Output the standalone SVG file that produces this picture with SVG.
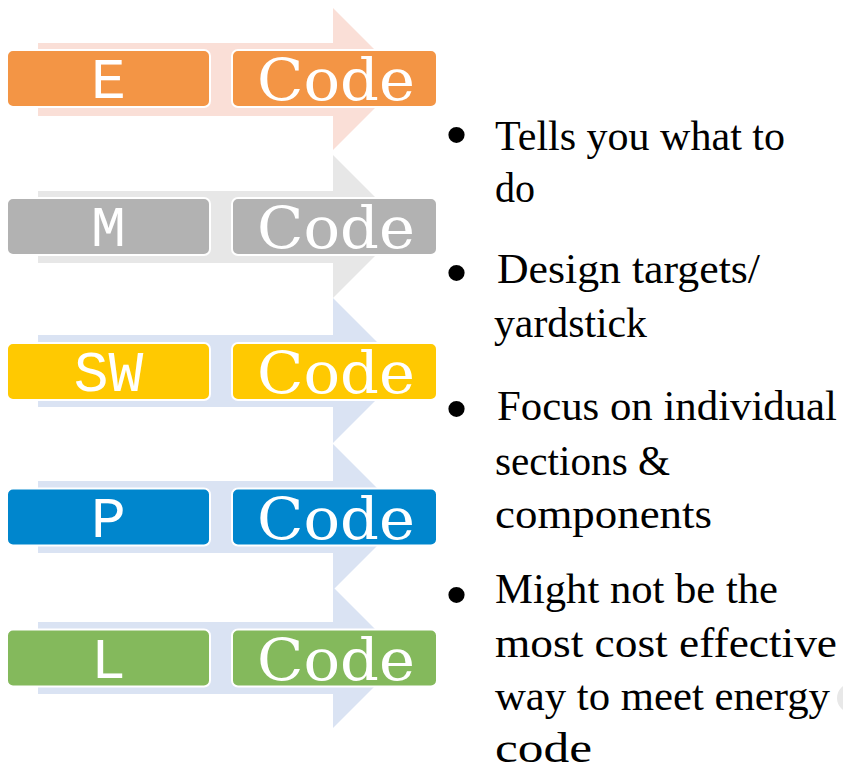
<svg xmlns="http://www.w3.org/2000/svg" width="843" height="774" viewBox="0 0 843 774">
<style>
.box{stroke:#fff;stroke-width:2}
.lbl{font-family:"Liberation Mono","Courier New",monospace;font-size:58px;fill:#fff;text-anchor:middle}
.code{font-family:"DejaVu Serif",serif;font-size:58px;fill:#fff;text-anchor:middle}
.txt{font-family:"Liberation Serif","Times New Roman",serif;font-size:43px;fill:#000}
.bul{font-family:"Liberation Sans",Arial,sans-serif;font-size:60px;fill:#000}
</style>
<rect width="843" height="774" fill="#fff"/>
<g id="connectors">
<polygon fill="#FADFD7" points="38,43 333,43 333,8 404,79 333,150 333,116 38,116"/>
<polygon fill="#E7E7E7" points="38,191 333,191 333,155 404.5,226.5 333,298 333,263 38,263"/>
<polygon fill="#DAE3F3" points="38,335 333,335 333,298 405.5,370.5 333,443 333,407 38,407"/>
<polygon fill="#DAE3F3" points="38,481 333,481 333,444 406,517 333,590 333,553 38,553"/>
<polygon fill="#DAE3F3" points="38,622 333,622 333,587 403.5,657.5 333,728 333,694 38,694"/>
</g>
<g id="row-e">
<rect class="box" x="7" y="50" width="203" height="57" rx="6" fill="#F39545"/>
<text class="lbl" x="108.5" y="98">E</text>
<rect class="box" x="232" y="50" width="205" height="57" rx="6" fill="#F39545"/>
<text class="code" x="336" y="100" textLength="158" lengthAdjust="spacingAndGlyphs">Code</text>
</g>
<g id="row-m">
<rect class="box" x="7" y="198" width="203" height="57" rx="6" fill="#B2B2B2"/>
<text class="lbl" x="108.5" y="246">M</text>
<rect class="box" x="232" y="198" width="205" height="57" rx="6" fill="#B2B2B2"/>
<text class="code" x="336" y="248" textLength="158" lengthAdjust="spacingAndGlyphs">Code</text>
</g>
<g id="row-sw">
<rect class="box" x="7" y="343" width="203" height="57" rx="6" fill="#FFC901"/>
<text class="lbl" x="108.5" y="391">SW</text>
<rect class="box" x="232" y="343" width="205" height="57" rx="6" fill="#FFC901"/>
<text class="code" x="336" y="393" textLength="158" lengthAdjust="spacingAndGlyphs">Code</text>
</g>
<g id="row-p">
<rect class="box" x="7" y="488.5" width="203" height="57" rx="6" fill="#0086CD"/>
<text class="lbl" x="108.5" y="536.5">P</text>
<rect class="box" x="232" y="488.5" width="205" height="57" rx="6" fill="#0086CD"/>
<text class="code" x="336" y="538.5" textLength="158" lengthAdjust="spacingAndGlyphs">Code</text>
</g>
<g id="row-l">
<rect class="box" x="7" y="629.5" width="203" height="57" rx="6" fill="#84B95C"/>
<text class="lbl" x="108.5" y="677.5">L</text>
<rect class="box" x="232" y="629.5" width="205" height="57" rx="6" fill="#84B95C"/>
<text class="code" x="336" y="679.5" textLength="158" lengthAdjust="spacingAndGlyphs">Code</text>
</g>
<g id="bullets">
<text class="bul" x="446" y="155">•</text>
<text class="txt" x="495" y="150" textLength="290" lengthAdjust="spacingAndGlyphs">Tells you what to</text>
<text class="txt" x="495" y="202" textLength="40" lengthAdjust="spacingAndGlyphs">do</text>
<text class="bul" x="446" y="293">•</text>
<text class="txt" x="497" y="283" textLength="263" lengthAdjust="spacingAndGlyphs">Design targets/</text>
<text class="txt" x="494" y="337" textLength="153" lengthAdjust="spacingAndGlyphs">yardstick</text>
<text class="bul" x="446" y="429">•</text>
<text class="txt" x="497" y="420" textLength="340" lengthAdjust="spacingAndGlyphs">Focus on individual</text>
<text class="txt" x="495" y="475" textLength="175" lengthAdjust="spacingAndGlyphs">sections &amp;</text>
<text class="txt" x="495" y="528" textLength="217" lengthAdjust="spacingAndGlyphs">components</text>
<text class="bul" x="446" y="615">•</text>
<text class="txt" x="495" y="603" textLength="283" lengthAdjust="spacingAndGlyphs">Might not be the</text>
<text class="txt" x="495" y="657" textLength="342" lengthAdjust="spacingAndGlyphs">most cost effective</text>
<text class="txt" x="495" y="710" textLength="335" lengthAdjust="spacingAndGlyphs">way to meet energy</text>
<text class="txt" x="495" y="762" textLength="97" lengthAdjust="spacingAndGlyphs">code</text>
</g>
<circle cx="852" cy="698" r="15" fill="#E8E8E8"/>
</svg>
